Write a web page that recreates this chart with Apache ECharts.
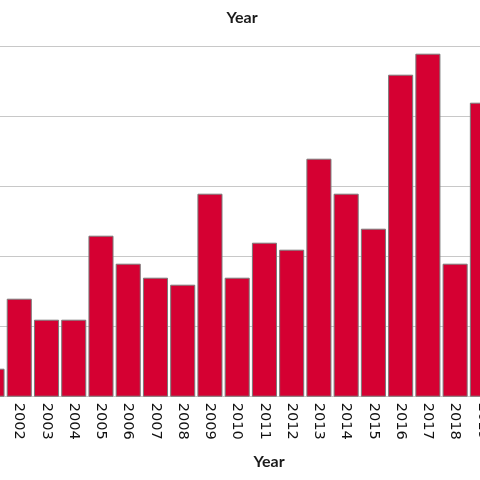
<!DOCTYPE html>
<html><head><meta charset="utf-8">
<script src="https://cdn.jsdelivr.net/npm/echarts@6/dist/echarts.min.js"></script>
<style>html,body{margin:0;padding:0;background:#fff}#c{width:480px;height:480px}</style>
</head><body><div id="c"></div>
<script>
var years = ['2001','2002','2003','2004','2005','2006','2007','2008','2009','2010','2011','2012','2013','2014','2015','2016','2017','2018','2019'];
var counts = [4,14,11,11,23,19,17,16,29,17,22,21,34,29,24,46,49,19,42];
var yTicks = {min:0, max:50, interval:10};

var chart = echarts.init(document.getElementById('c'), null, {renderer:'canvas'});
chart.setOption({
  animation:false,
  backgroundColor:'#fff',
  title:[
    {text:'Year', left:237, top:5, textAlign:'center',
     textStyle:{fontFamily:'Lato', fontWeight:'bold', fontSize:16, color:'#1a1a1a'}},
    {text:'Year', left:264, top:449, textAlign:'center',
     textStyle:{fontFamily:'Lato', fontWeight:'bold', fontSize:16, color:'#1a1a1a'}}
  ],
  grid:{left:-21.6, right:-16, top:46.7, bottom:83.3, containLabel:false, outerBoundsMode:'none'},
  xAxis:{
    type:'category', data:years,
    axisLine:{show:false}, axisTick:{show:false},
    axisLabel:{rotate:-90, margin:6, fontFamily:'DejaVu Sans', fontSize:14.6, color:'#111', interval:0}
  },
  yAxis:{
    type:'value', min:yTicks.min, max:yTicks.max, interval:yTicks.interval,
    axisLabel:{show:false}, axisLine:{show:false}, axisTick:{show:false},
    splitLine:{lineStyle:{color:'#c8c8c8', width:1}}
  },
  series:[{
    type:'bar', data:counts, barCategoryGap:'8%',
    itemStyle:{color:'#d50032', borderColor:'#7a7a7a', borderWidth:1}
  }]
});
</script></body></html>
